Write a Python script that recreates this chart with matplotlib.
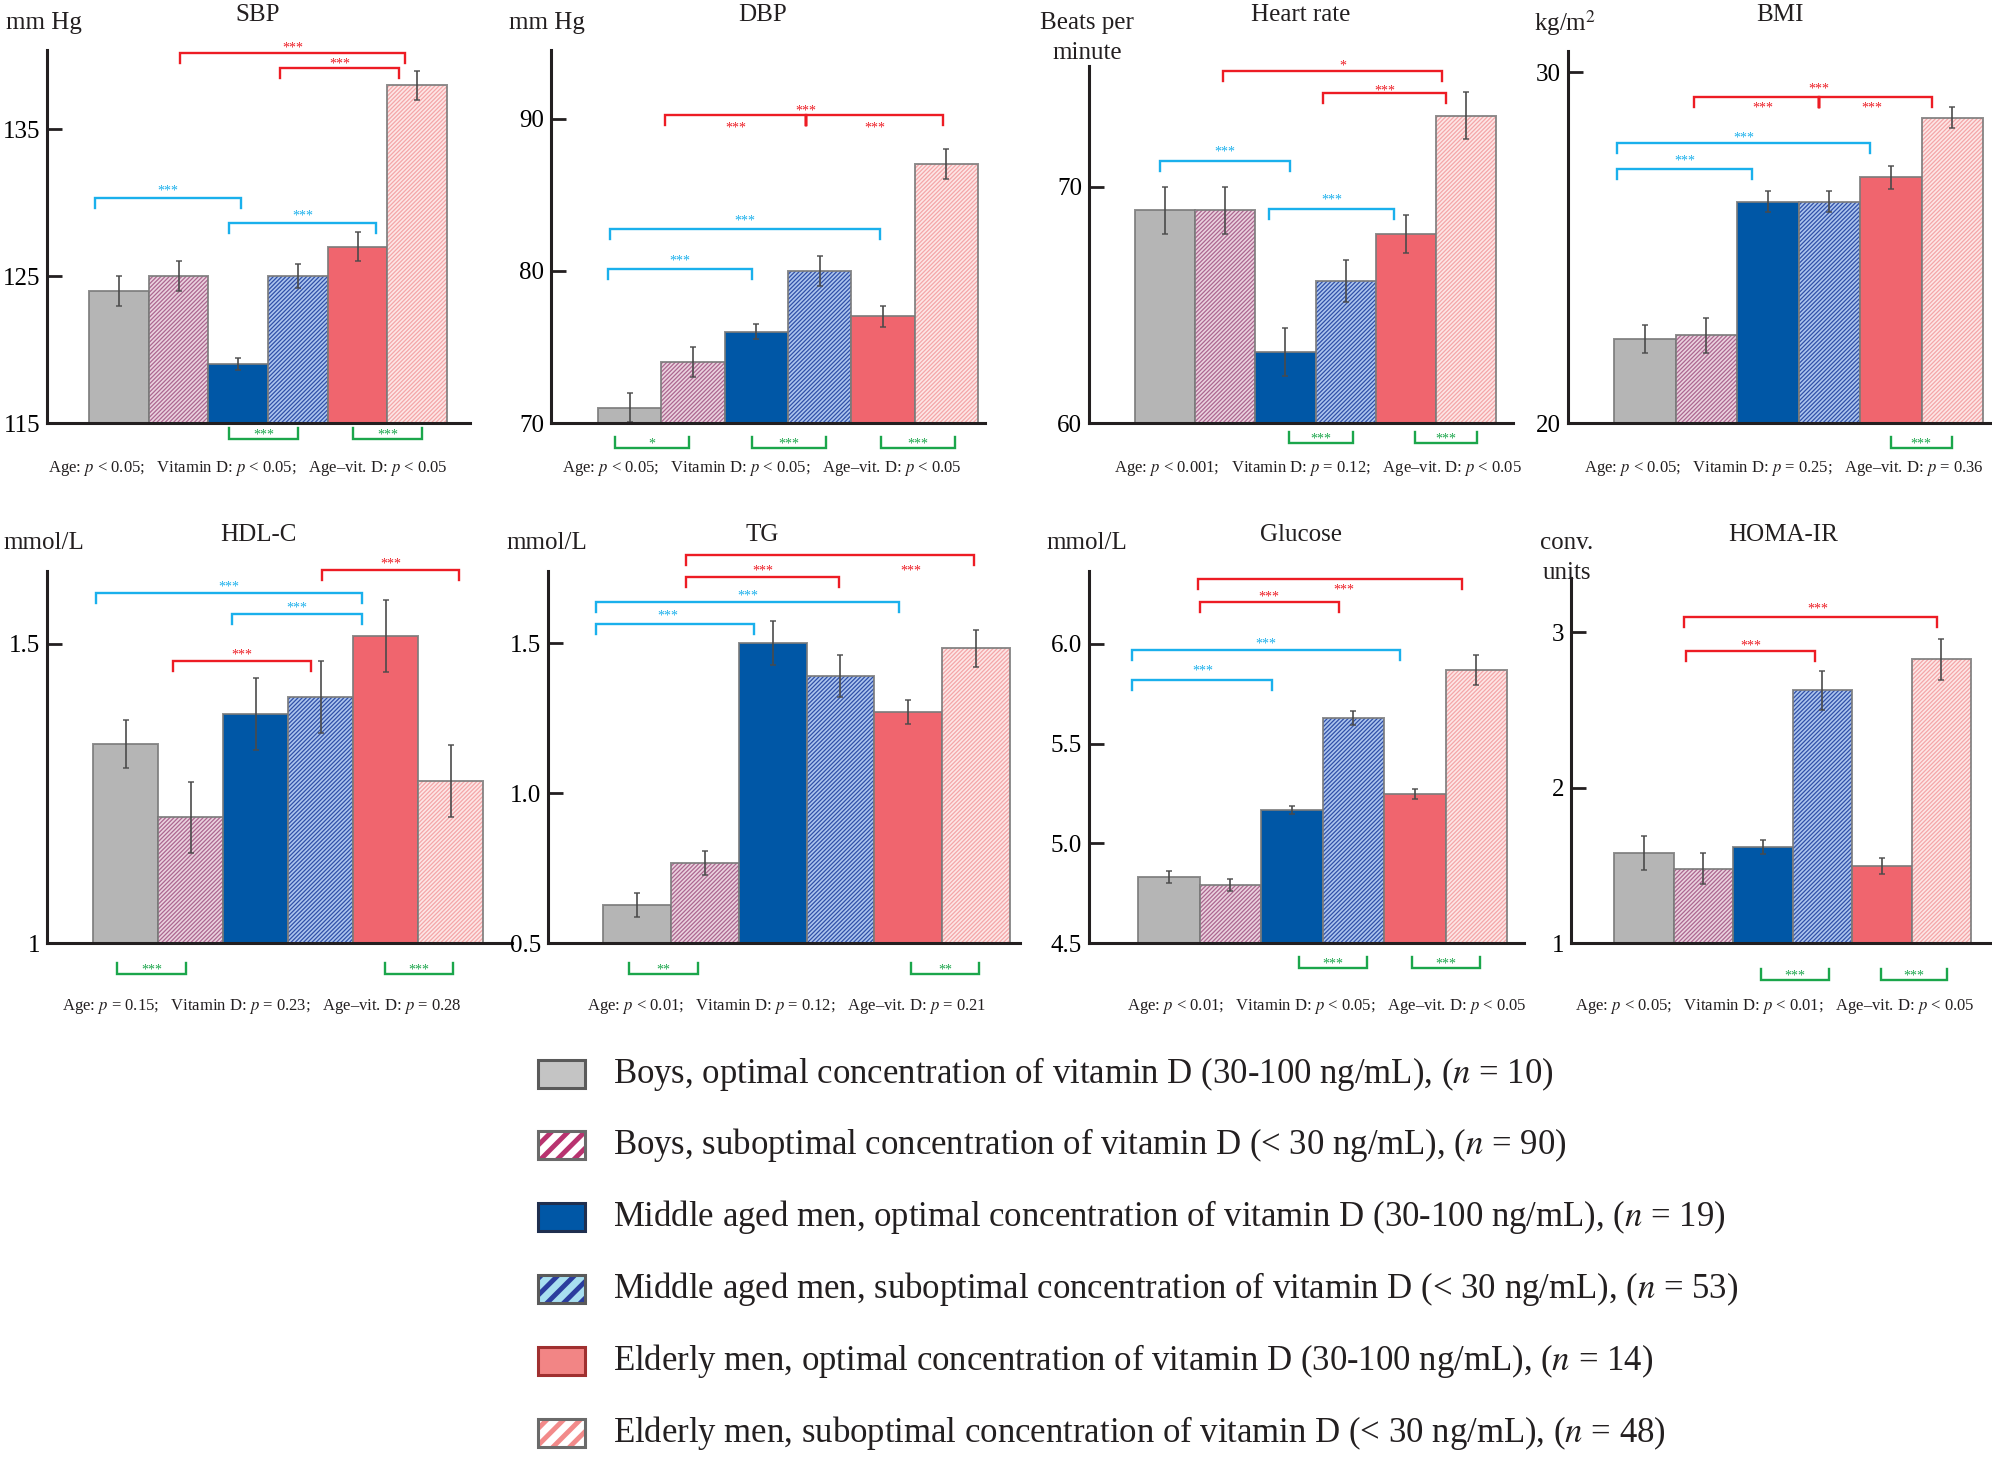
import matplotlib.pyplot as plt
from matplotlib.patches import Rectangle

W, H = 1992, 1457
plt.rcParams['font.family'] = ['Liberation Serif', 'DejaVu Serif']
plt.rcParams['mathtext.fontset'] = 'stix'
plt.rcParams['hatch.linewidth'] = 0.9

groups = ['Boys, optimal concentration of vitamin D (30-100 ng/mL), ($n$ = 10)',
          'Boys, suboptimal concentration of vitamin D (< 30 ng/mL), ($n$ = 90)',
          'Middle aged men, optimal concentration of vitamin D (30-100 ng/mL), ($n$ = 19)',
          'Middle aged men, suboptimal concentration of vitamin D (< 30 ng/mL), ($n$ = 53)',
          'Elderly men, optimal concentration of vitamin D (30-100 ng/mL), ($n$ = 14)',
          'Elderly men, suboptimal concentration of vitamin D (< 30 ng/mL), ($n$ = 48)']

panels = ['SBP', 'DBP', 'Heart rate', 'BMI', 'HDL-C', 'TG', 'Glucose', 'HOMA-IR']
units = {'SBP': 'mm Hg', 'DBP': 'mm Hg', 'Heart rate': 'Beats per\nminute', 'BMI': 'kg/m$^2$',
         'HDL-C': 'mmol/L', 'TG': 'mmol/L', 'Glucose': 'mmol/L', 'HOMA-IR': 'conv.\nunits'}

means = {'SBP': [124, 125, 119, 125, 127, 138],
         'DBP': [71, 74, 76, 80, 77, 87],
         'Heart rate': [69, 69, 63, 66, 68, 73],
         'BMI': [22.4, 22.5, 26.3, 26.3, 27.0, 28.7],
         'HDL-C': [1.333, 1.21, 1.383, 1.411, 1.513, 1.271],
         'TG': [0.627, 0.767, 1.50, 1.39, 1.27, 1.483],
         'Glucose': [4.83, 4.79, 5.167, 5.628, 5.247, 5.87],
         'HOMA-IR': [1.58, 1.477, 1.62, 2.626, 1.497, 2.826]}
errors = {'SBP': [1.0, 1.0, 0.4, 0.8, 1.0, 1.0],
          'DBP': [0.95, 1.0, 0.5, 1.0, 0.7, 1.0],
          'Heart rate': [1.0, 1.0, 1.0, 0.9, 0.8, 1.0],
          'BMI': [0.4, 0.5, 0.3, 0.3, 0.33, 0.3],
          'HDL-C': [0.04, 0.06, 0.06, 0.06, 0.06, 0.06],
          'TG': [0.04, 0.04, 0.072, 0.07, 0.04, 0.062],
          'Glucose': [0.03, 0.03, 0.02, 0.035, 0.027, 0.074],
          'HOMA-IR': [0.11, 0.1, 0.045, 0.125, 0.05, 0.13]}

ylims = {'SBP': (115, 140.4), 'DBP': (70, 94.5), 'Heart rate': (60, 75.1), 'BMI': (20, 30.6),
         'HDL-C': (1, 1.622), 'TG': (0.5, 1.74), 'Glucose': (4.5, 6.366), 'HOMA-IR': (1, 3.35)}
yticks = {'SBP': [115, 125, 135], 'DBP': [70, 80, 90], 'Heart rate': [60, 70], 'BMI': [20, 30],
          'HDL-C': [1, 1.5], 'TG': [0.5, 1.0, 1.5], 'Glucose': [4.5, 5.0, 5.5, 6.0], 'HOMA-IR': [1, 2, 3]}
yticklabels = {'SBP': ['115', '125', '135'], 'DBP': ['70', '80', '90'], 'Heart rate': ['60', '70'],
               'BMI': ['20', '30'], 'HDL-C': ['1', '1.5'], 'TG': ['0.5', '1.0', '1.5'],
               'Glucose': ['4.5', '5.0', '5.5', '6.0'], 'HOMA-IR': ['1', '2', '3']}

# two-way ANOVA p-values: age, vitamin D, interaction
pvals = {'SBP': ['< 0.05', '< 0.05', '< 0.05'], 'DBP': ['< 0.05', '< 0.05', '< 0.05'],
         'Heart rate': ['< 0.001', '= 0.12', '< 0.05'], 'BMI': ['< 0.05', '= 0.25', '= 0.36'],
         'HDL-C': ['= 0.15', '= 0.23', '= 0.28'], 'TG': ['< 0.01', '= 0.12', '= 0.21'],
         'Glucose': ['< 0.01', '< 0.05', '< 0.05'], 'HOMA-IR': ['< 0.05', '< 0.01', '< 0.05']}

# significance brackets above bars: x1, x2 (bar index), y level, colour, stars, label x, label offset px
brackets = {
    'SBP': [(1.02, 4.80, 140.2, 'r', '***', None, 8), (2.70, 4.70, 139.15, 'r', '***', None, 8),
            (-0.40, 2.05, 130.3, 'b', '***', None, 11), (1.85, 4.31, 128.6, 'b', '***', None, 11)],
    'DBP': [(0.56, 2.78, 90.2, 'r', '***', None, -9), (2.78, 4.95, 90.2, 'r', '***', None, -9),
            (2.78, 2.78, 90.2, 'r', '***', None, 8),
            (-0.31, 3.95, 82.76, 'b', '***', None, 11), (-0.34, 1.93, 80.13, 'b', '***', None, 11)],
    'Heart rate': [(0.96, 4.60, 74.87, 'r', '*', 2.96, 9), (2.62, 4.67, 73.94, 'r', '***', None, 6),
                   (-0.08, 2.08, 71.10, 'b', '***', None, 12), (1.73, 3.80, 69.07, 'b', '***', None, 12)],
    'BMI': [(0.80, 2.83, 29.29, 'r', '***', 1.92, -8), (2.83, 4.67, 29.29, 'r', '***', 3.70, -8),
            (2.83, 2.83, 29.29, 'r', '***', None, 11),
            (-0.45, 3.66, 27.98, 'b', '***', None, 8), (-0.45, 1.74, 27.24, 'b', '***', None, 11)],
    'HDL-C': [(3.02, 5.13, 1.624, 'r', '***', None, 9), (-0.45, 3.64, 1.585, 'b', '***', None, 10),
              (1.64, 3.64, 1.550, 'b', '***', None, 10), (0.73, 2.85, 1.4716, 'r', '***', None, 9)],
    'TG': [(0.72, 4.97, 1.793, 'r', '***', 4.04, -12), (0.72, 2.98, 1.72, 'r', '***', 1.85, 9),
           (-0.60, 3.87, 1.637, 'b', '***', 1.64, 9), (-0.60, 1.73, 1.563, 'b', '***', 0.46, 12)],
    'Glucose': [(0.48, 4.77, 6.325, 'r', '***', 2.85, -7), (0.51, 2.77, 6.21, 'r', '***', 1.63, 9),
                (-0.60, 3.76, 5.97, 'b', '***', 1.58, 9), (-0.60, 1.68, 5.82, 'b', '***', 0.56, 12)],
    'HOMA-IR': [(0.68, 4.93, 3.10, 'r', '***', 2.93, 11), (0.71, 2.88, 2.877, 'r', '***', 1.80, 9)],
}
# green brackets under the axis (same age group, optimal vs suboptimal)
green = {'SBP': [(1.85, 3.0, '***'), (3.92, 5.08, '***')],
         'DBP': [(-0.23, 0.94, '*'), (1.93, 3.10, '***'), (3.97, 5.14, '***')],
         'Heart rate': [(2.06, 3.12, '***'), (4.15, 5.18, '***')],
         'BMI': [(4.00, 4.99, '***')],
         'HDL-C': [(-0.13, 0.93, '***'), (3.99, 5.04, '***')],
         'TG': [(-0.12, 0.90, '**'), (4.04, 5.05, '**')],
         'Glucose': [(2.12, 3.22, '***'), (3.96, 5.06, '***')],
         'HOMA-IR': [(1.97, 3.12, '***'), (3.99, 5.10, '***')]}

# layout in pixels: y-axis x, x-axis end, first bar left, last bar right, axis top, baseline
frames = {'SBP': (47, 470, 89, 447, 50, 423),
          'DBP': (551, 985, 598, 978, 50, 423),
          'Heart rate': (1089, 1513, 1135, 1496, 66, 423),
          'BMI': (1568, 1992, 1614, 1983, 51, 423),
          'HDL-C': (47, 512, 93, 483, 571, 943),
          'TG': (548, 1020, 603, 1010, 571, 943),
          'Glucose': (1089, 1524, 1138, 1507, 571, 943),
          'HOMA-IR': (1571, 1992, 1614, 1971, 578, 943)}
green_drop = {'SBP': 16, 'DBP': 25, 'Heart rate': 20, 'BMI': 25,
              'HDL-C': 31, 'TG': 31, 'Glucose': 25, 'HOMA-IR': 37}
title_xy = {'SBP': (258, 15), 'DBP': (763, 15), 'Heart rate': (1301, 15), 'BMI': (1780, 15),
            'HDL-C': (258, 535), 'TG': (762, 535), 'Glucose': (1301, 535), 'HOMA-IR': (1783, 535)}
unit_xy = {'SBP': (44, 23), 'DBP': (547, 23), 'Heart rate': (1087, 38), 'BMI': (1565, 23),
           'HDL-C': (44, 543), 'TG': (547, 543), 'Glucose': (1087, 543), 'HOMA-IR': (1567, 558)}
note_xy = {'SBP': (248, 468), 'DBP': (762, 468), 'Heart rate': (1318, 468), 'BMI': (1784, 468),
           'HDL-C': (262, 1007), 'TG': (787, 1007), 'Glucose': (1327, 1007), 'HOMA-IR': (1775, 1007)}

face = ['#b5b5b5', '#ead2de', '#0057a6', '#adc5ee', '#f0656e', '#fde6e6']
hatchcol = [None, '#ac6690', None, '#3050a8', None, '#f4a6a8']
bcol = {'r': '#ed1c24', 'b': '#1ab0ec', 'g': '#1ba64b'}

fig = plt.figure(figsize=(W / 100, H / 100), dpi=100)


def ftext(x, y, s, **kw):
    fig.text(x / W, 1 - y / H, s, **kw)


for name in panels:
    xa, xe, bl, br, yt, yb = frames[name]
    ymin, ymax = ylims[name]
    ax = fig.add_axes([xa / W, 1 - yb / H, (xe - xa) / W, (yb - yt) / H])
    w = (br - bl) / 6
    ax.set_xlim(-0.5 - (bl - xa) / w, 5.5 + (xe - br) / w)
    ax.set_ylim(ymin, ymax)
    per_px = (ymax - ymin) / (yb - yt)

    x = range(6)
    for i in x:
        if hatchcol[i]:
            ax.bar(i, means[name][i], width=1, color=face[i], edgecolor=hatchcol[i],
                   hatch='////////', linewidth=0)
        else:
            ax.bar(i, means[name][i], width=1, color=face[i], linewidth=0)
        ax.bar(i, means[name][i], width=1, fill=False, edgecolor='#7a7a7a',
               linewidth=1.4, alpha=0.85)
    ax.errorbar(x, means[name], yerr=errors[name], fmt='none', ecolor='#4a4a4a',
                elinewidth=1.4, capsize=2.5, capthick=1.2, alpha=0.85)

    for side in ['top', 'right']:
        ax.spines[side].set_visible(False)
    for side in ['left', 'bottom']:
        ax.spines[side].set_linewidth(2.2)
        ax.spines[side].set_color('#231f20')
    ax.set_xticks([])
    ax.set_yticks(yticks[name])
    ax.set_yticklabels(yticklabels[name])
    ax.tick_params(axis='y', direction='in', length=11, width=2, color='#231f20',
                   labelsize=18, pad=5)

    leg = 10 * per_px
    for x1, x2, y, c, stars, lx, ldy in brackets[name]:
        ax.plot([x1, x1, x2, x2], [y - leg, y, y, y - leg], color=bcol[c], lw=1.7,
                clip_on=False, solid_joinstyle='miter')
        if lx is None:
            lx = (x1 + x2) / 2
        ax.annotate(stars, (lx, y), xytext=(0, (ldy - 7) * 0.72), textcoords='offset points',
                    ha='center', va='baseline', fontsize=10, color=bcol[c],
                    annotation_clip=False)

    yl = ymin - green_drop[name] * per_px
    for x1, x2, stars in green[name]:
        ax.plot([x1, x1, x2, x2], [yl + 11 * per_px, yl, yl, yl + 11 * per_px],
                color=bcol['g'], lw=1.7, clip_on=False, solid_joinstyle='miter')
        ax.annotate(stars, ((x1 + x2) / 2, yl), xytext=(0, 0.5), textcoords='offset points',
                    ha='center', va='baseline', fontsize=10, color=bcol['g'],
                    annotation_clip=False)

    tx, ty = title_xy[name]
    ftext(tx, ty, name, ha='center', va='center', fontsize=18, color='#231f20')
    ux, uy = unit_xy[name]
    ftext(ux, uy, units[name], ha='center', va='center', fontsize=18, color='#231f20',
          linespacing=1.45)
    p = pvals[name]
    note = f'Age: $p$ {p[0]};   Vitamin D: $p$ {p[1]};   Age\u2013vit. D: $p$ {p[2]}'
    nx, ny = note_xy[name]
    ftext(nx, ny, note, ha='center', va='center', fontsize=12, color='#231f20')

# legend
lg = fig.add_axes([0, 0, 1, 1])
lg.set_xlim(0, W)
lg.set_ylim(H, 0)
lg.axis('off')
leg_face = ['#c4c4c4', 'white', '#0057a6', '#a8dff0', '#f28585', 'white']
leg_hatch = [None, '#b8336f', None, '#2b3d9e', None, '#f28a8a']
leg_edge = ['#5a5a5a', '#6a6a6a', '#1f2f4f', '#5a5a5a', '#a03030', '#6a6a6a']
row_y = [1074, 1145, 1217, 1289, 1361, 1433]
with plt.rc_context({'hatch.linewidth': 3.5}):
    for i, label in enumerate(groups):
        y = row_y[i]
        if leg_hatch[i]:
            lg.add_patch(Rectangle((538, y - 14), 47, 28, facecolor=leg_face[i],
                                   edgecolor=leg_hatch[i], hatch='//', linewidth=0))
        else:
            lg.add_patch(Rectangle((538, y - 14), 47, 28, facecolor=leg_face[i], linewidth=0))
        lg.add_patch(Rectangle((538, y - 14), 47, 28, fill=False, edgecolor=leg_edge[i],
                               linewidth=2.2))
        lg.text(613, y, label, ha='left', va='center', fontsize=25, color='#231f20')

fig.savefig('out.png', dpi=100)
